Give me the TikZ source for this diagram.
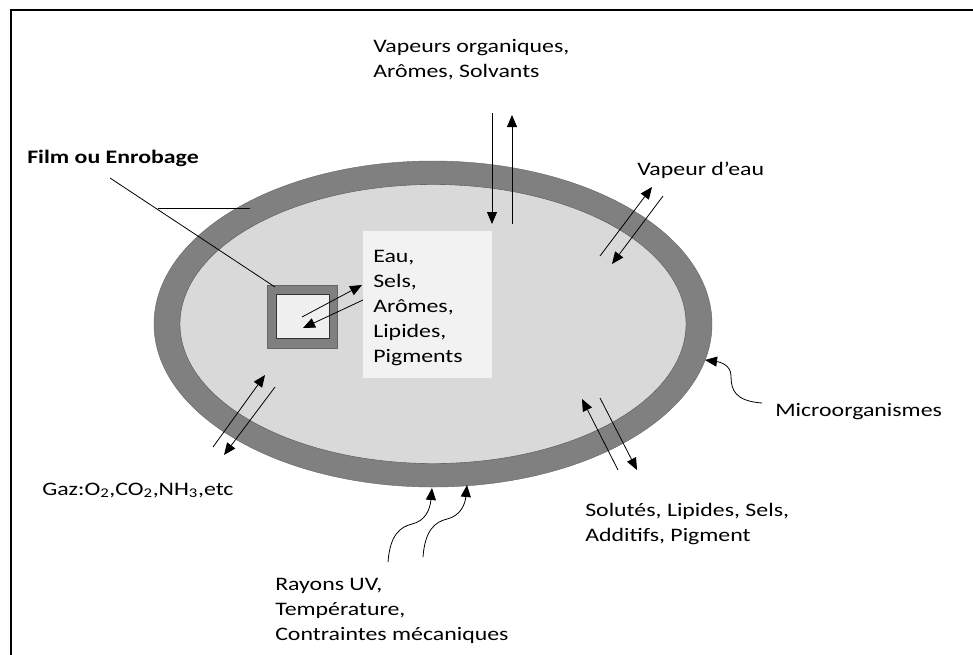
\documentclass[tikz,border=0pt]{standalone}
\usepackage{fontspec}
\setmainfont{Carlito}[FakeStretch=1.25]
\usetikzlibrary{arrows.meta}

\definecolor{ringgray}{HTML}{808080}
\definecolor{foodgray}{HTML}{D9D9D9}
\definecolor{boxgray}{HTML}{F2F2F2}

\tikzset{
  lbl/.style={font=\fontsize{14.3}{18.75}\selectfont,inner sep=0pt,anchor=base west,align=left},
  flux/.style={line width=0.6pt,-{Triangle[length=9pt,width=7.5pt]}},
  lead/.style={line width=0.6pt}
}

\begin{document}
\begin{tikzpicture}[x=0.75pt,y=-0.75pt]
\useasboundingbox (0,0) rectangle (973,654);

\draw[line width=1.5pt] (11,660) -- (11,9.5) -- (980,9.5);

\filldraw[fill=ringgray,draw=ringgray!80!black,line width=0.3pt] (433,324) ellipse [x radius=279,y radius=163];
\filldraw[fill=foodgray,draw=ringgray!60!black,line width=0.3pt] (433,324) ellipse [x radius=253,y radius=139.5];

\filldraw[fill=ringgray,draw=ringgray!80!black,line width=0.4pt] (267,285) rectangle (337,348);
\filldraw[fill=gray!12,draw=black!80,line width=0.6pt] (276,294) rectangle (329,338);
\fill[boxgray] (363,231) rectangle (492,378);

% multi-line labels sit on the baseline of their last line
\node[lbl] (vapo) at (373,77) {Vapeurs organiques,\\Arômes, Solvants};
\node[lbl] (film) at (27,163) {\bfseries Film ou Enrobage};
\node[lbl] (eau) at (637,175) {Vapeur d’eau};
\node[lbl] (incl) at (373,362) {Eau,\\Sels,\\Arômes,\\Lipides,\\Pigments};
\node[lbl] (micro) at (775,416) {Microorganismes};
\node[lbl] (gaz) at (42,495) {Gaz:O\textsubscript{2},CO\textsubscript{2},NH\textsubscript{3},etc};
\node[lbl] (solu) at (585,541) {Solutés, Lipides, Sels,\\Additifs, Pigment};
\node[lbl] (uv) at (275,640) {Rayons UV,\\Température,\\Contraintes mécaniques};

\coordinate (vo1a) at (492,113); \coordinate (vo1b) at (492,224);
\coordinate (vo2a) at (512,224); \coordinate (vo2b) at (512,115);
\coordinate (ea1a) at (600,256); \coordinate (ea1b) at (652,187);
\coordinate (ea2a) at (663,196); \coordinate (ea2b) at (612,264);
\coordinate (in1a) at (302,317); \coordinate (in1b) at (362,285);
\coordinate (in2a) at (363,300); \coordinate (in2b) at (303,328);
\coordinate (gz1a) at (213,447); \coordinate (gz1b) at (265,375);
\coordinate (gz2a) at (275,387); \coordinate (gz2b) at (224,455);
\coordinate (so1a) at (618,470); \coordinate (so1b) at (582,399);
\coordinate (so2a) at (600,398); \coordinate (so2b) at (637,470);
\coordinate (mi-a) at (762,403); \coordinate (mi-b) at (705,360);
\coordinate (uv1a) at (388,562); \coordinate (uv1b) at (432,488);
\coordinate (uv2a) at (423,557); \coordinate (uv2b) at (467,485);
\coordinate (fl1a) at (110,178); \coordinate (fl1b) at (275,287);
\coordinate (fl2a) at (158,208); \coordinate (fl2b) at (250,208);

\draw[lead] (fl1a) -- (fl1b);
\draw[lead] (fl2a) -- (fl2b);

\draw[flux] (vo1a) -- (vo1b);
\draw[flux] (vo2a) -- (vo2b);
\draw[flux] (ea1a) -- (ea1b);
\draw[flux] (ea2a) -- (ea2b);
\draw[flux] (in1a) -- (in1b);
\draw[flux] (in2a) -- (in2b);
\draw[flux] (gz1a) -- (gz1b);
\draw[flux] (gz2a) -- (gz2b);
\draw[flux] (so1a) -- (so1b);
\draw[flux] (so2a) -- (so2b);

\draw[flux] (mi-a) .. controls (735,401) and (731,390) .. (731,376) .. controls (731,365) and (720,362) .. (mi-b);
\draw[flux] (uv1a) .. controls (390,535) and (400,527) .. (412,524) .. controls (425,521) and (430,510) .. (uv1b);
\draw[flux] (uv2a) .. controls (425,530) and (435,522) .. (447,519) .. controls (460,516) and (465,505) .. (uv2b);
\end{tikzpicture}
\end{document}
